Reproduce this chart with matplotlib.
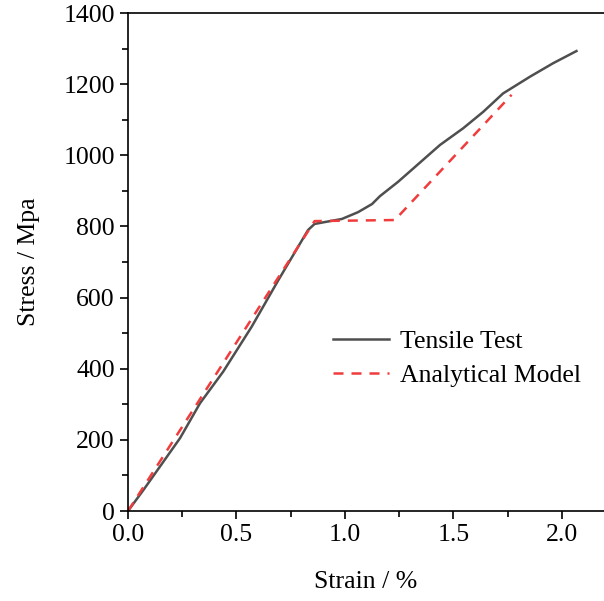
import matplotlib
matplotlib.use('Agg')
import matplotlib.pyplot as plt
from matplotlib.ticker import MultipleLocator

# Tensile test curve
test_strain = [0.0, 0.071, 0.24, 0.332, 0.439, 0.57, 0.693, 0.83, 0.86, 0.986,
               1.06, 1.125, 1.161, 1.244, 1.315, 1.438, 1.545, 1.637, 1.729,
               1.853, 1.96, 2.067]
test_stress = [0, 59, 205, 303, 392, 518, 649, 790, 807, 821,
               840, 863, 885, 925, 963, 1029, 1076, 1122, 1174,
               1221, 1259, 1293]

# Analytical model
model_strain = [0.0, 0.86, 1.23, 1.768]
model_stress = [0, 815, 818, 1170]

plt.rcParams['font.family'] = ['Liberation Serif', 'DejaVu Serif']
plt.rcParams['font.size'] = 18.5

fig = plt.figure(figsize=(6.04, 6.01), dpi=100)
ax = fig.add_axes([128 / 604, 1 - 511 / 601, 1 - 128 / 604, (511 - 13) / 601])

ax.plot(test_strain, test_stress, color='#4f4f4f', lw=1.8, label='Tensile Test')
ax.plot(model_strain, model_stress, color='#f03c3c', lw=1.8, dashes=(4, 3.2),
        label='Analytical Model')

ax.set_xlim(0, 2.194)
ax.set_ylim(0, 1400)
ax.xaxis.set_major_locator(MultipleLocator(0.5))
ax.xaxis.set_minor_locator(MultipleLocator(0.25))
ax.yaxis.set_major_locator(MultipleLocator(200))
ax.yaxis.set_minor_locator(MultipleLocator(100))
ax.tick_params(which='major', direction='out', length=6, width=1.2, top=False, right=False)
ax.tick_params(which='minor', direction='out', length=4, width=1.2, top=False, right=False)
ax.xaxis.set_major_formatter(plt.FormatStrFormatter('%.1f'))

ax.spines['right'].set_visible(False)
for s in ['left', 'bottom', 'top']:
    ax.spines[s].set_linewidth(1.2)

ax.set_xlabel('Strain / %', labelpad=18)
ax.set_ylabel('Stress / Mpa', labelpad=17)

ax.legend(frameon=False, loc='upper left', bbox_to_anchor=(0.409, 0.384),
          handlelength=2.2, handletextpad=0.4, labelspacing=0.42, borderaxespad=0)

fig.savefig('out.png', dpi=100)
